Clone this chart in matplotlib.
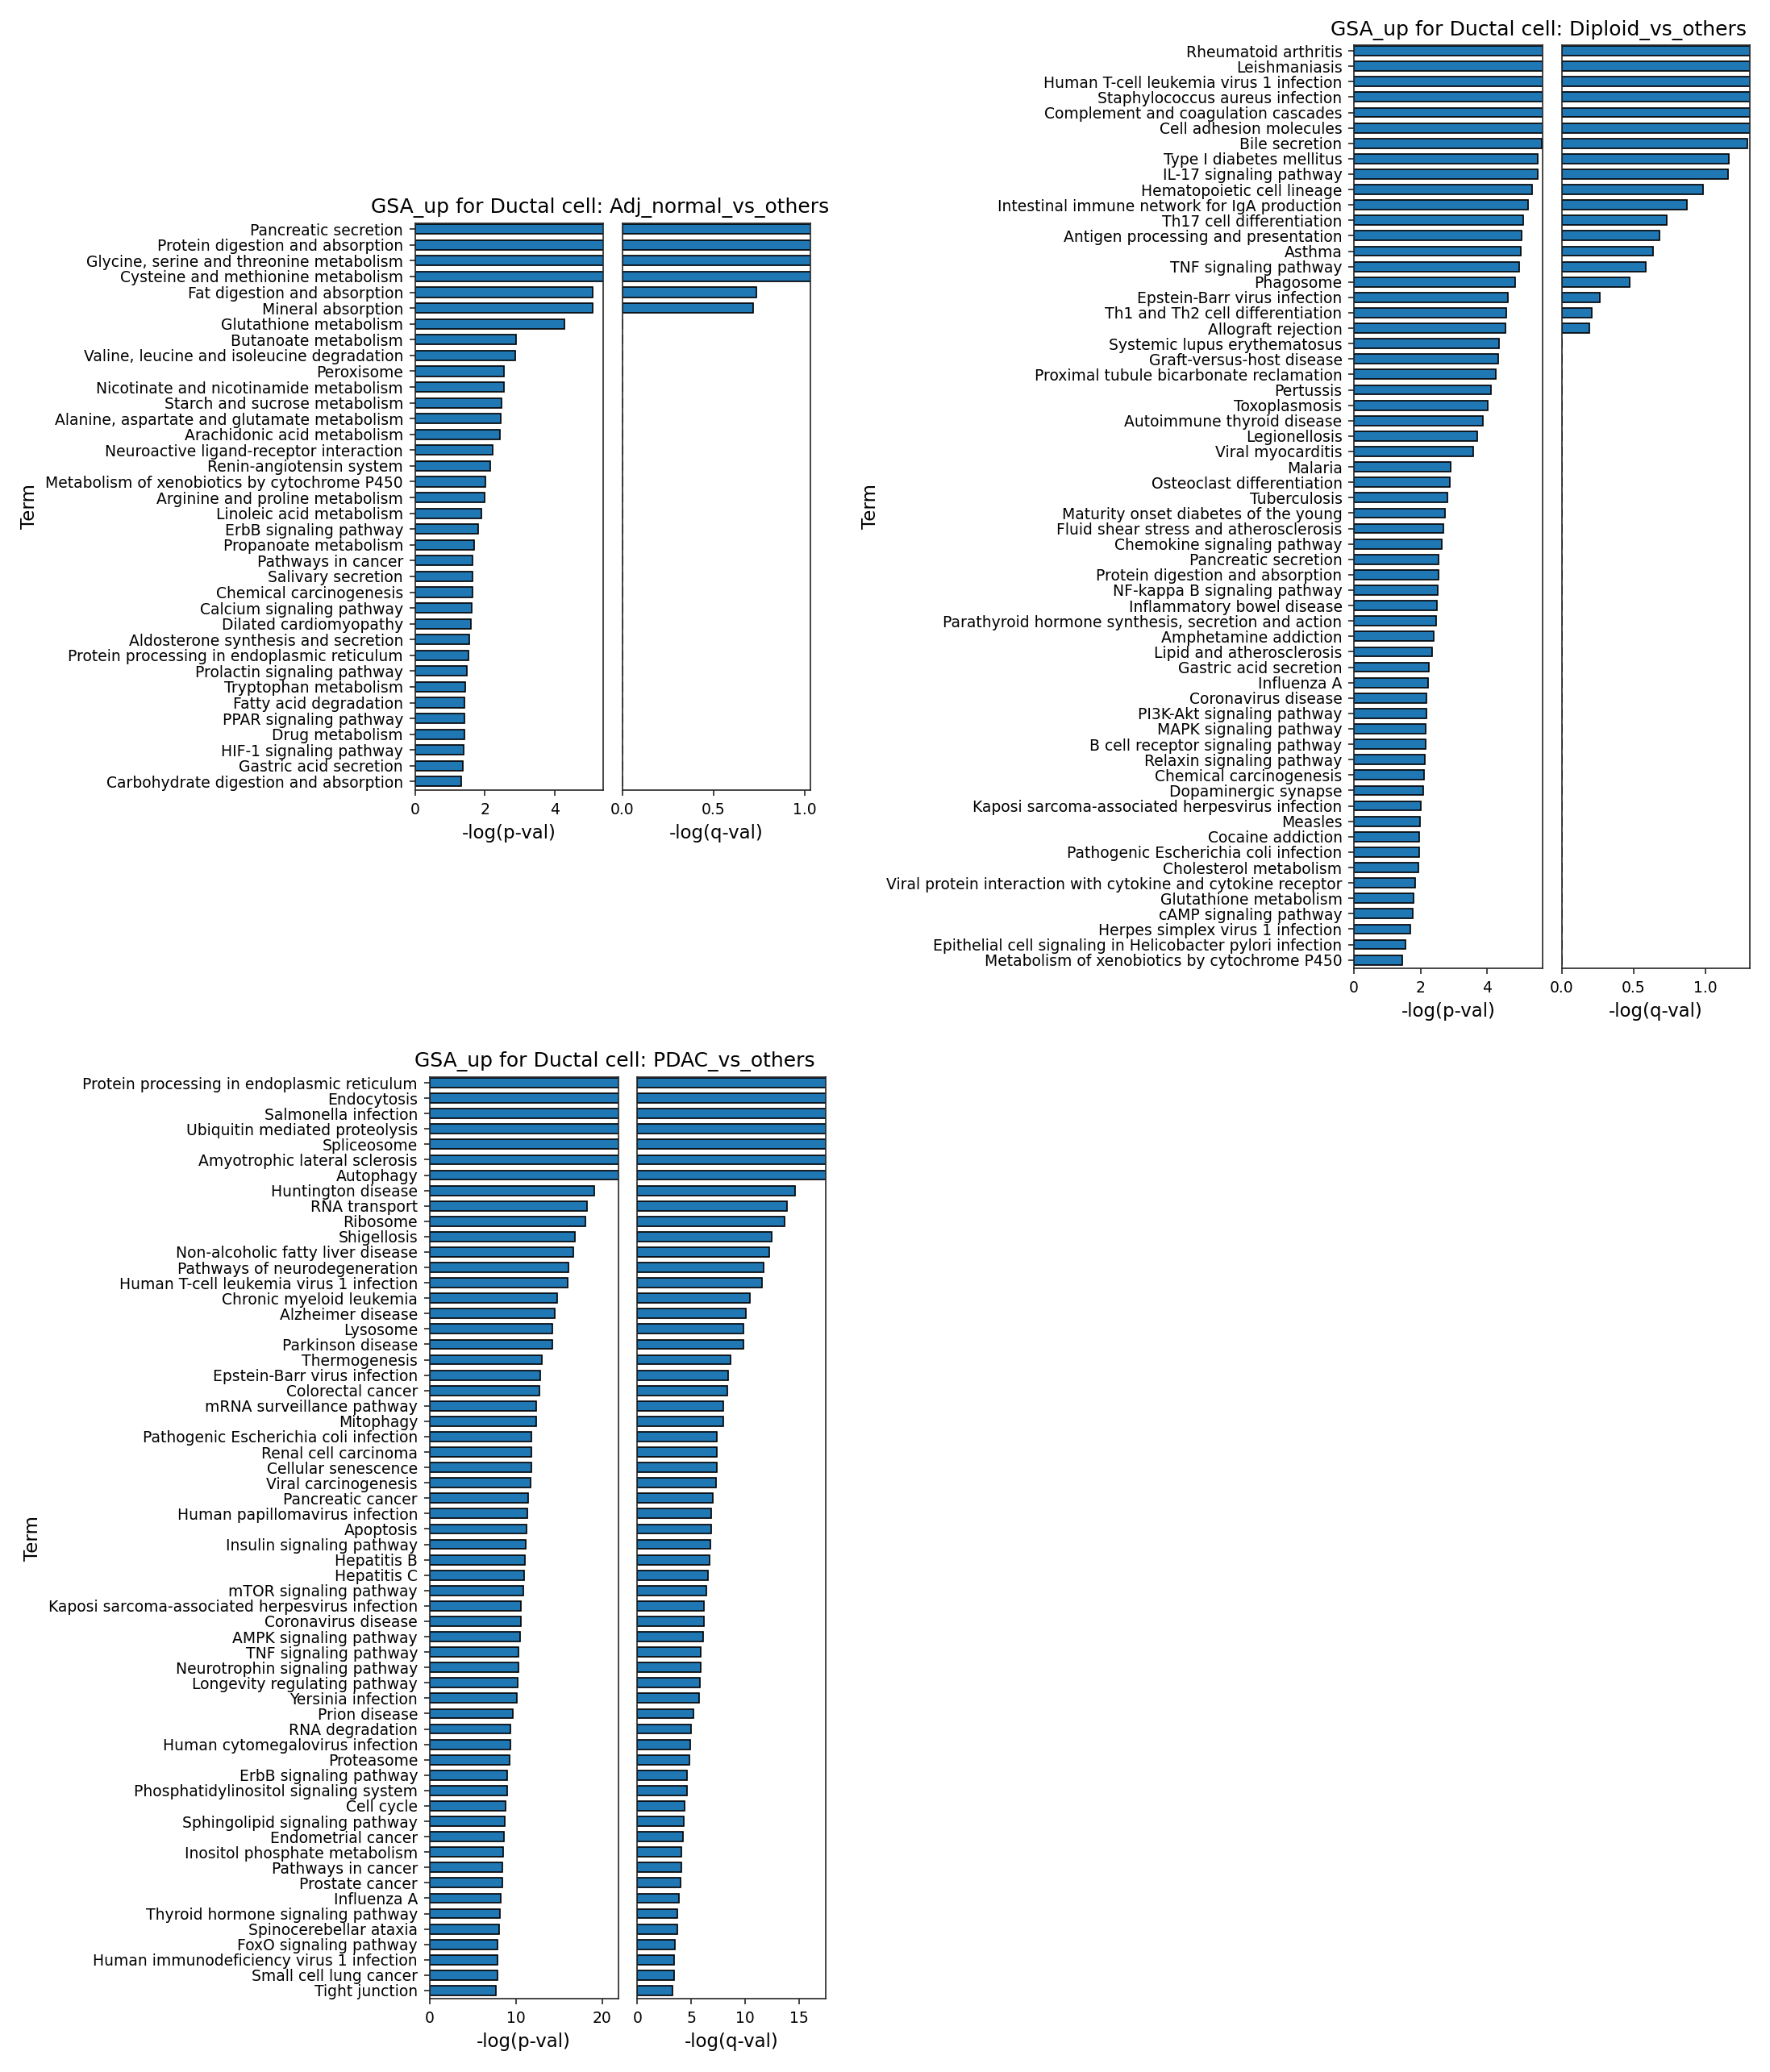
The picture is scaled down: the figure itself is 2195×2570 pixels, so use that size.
import matplotlib
matplotlib.use("Agg")
import matplotlib.pyplot as plt

# ---------------- data ----------------
adj_terms = [
    "Pancreatic secretion", "Protein digestion and absorption",
    "Glycine, serine and threonine metabolism", "Cysteine and methionine metabolism",
    "Fat digestion and absorption", "Mineral absorption", "Glutathione metabolism",
    "Butanoate metabolism", "Valine, leucine and isoleucine degradation", "Peroxisome",
    "Nicotinate and nicotinamide metabolism", "Starch and sucrose metabolism",
    "Alanine, aspartate and glutamate metabolism", "Arachidonic acid metabolism",
    "Neuroactive ligand-receptor interaction", "Renin-angiotensin system",
    "Metabolism of xenobiotics by cytochrome P450", "Arginine and proline metabolism",
    "Linoleic acid metabolism", "ErbB signaling pathway", "Propanoate metabolism",
    "Pathways in cancer", "Salivary secretion", "Chemical carcinogenesis",
    "Calcium signaling pathway", "Dilated cardiomyopathy",
    "Aldosterone synthesis and secretion", "Protein processing in endoplasmic reticulum",
    "Prolactin signaling pathway", "Tryptophan metabolism", "Fatty acid degradation",
    "PPAR signaling pathway", "Drug metabolism", "HIF-1 signaling pathway",
    "Gastric acid secretion", "Carbohydrate digestion and absorption",
]
adj_p = [6.2, 6.0, 5.9, 5.8, 5.10, 5.10, 4.29, 2.90, 2.88, 2.56, 2.54, 2.49, 2.45,
         2.43, 2.22, 2.16, 2.01, 1.99, 1.90, 1.82, 1.70, 1.66, 1.66, 1.66, 1.63, 1.61,
         1.56, 1.54, 1.49, 1.45, 1.43, 1.43, 1.43, 1.40, 1.38, 1.33]
adj_q = [1.25, 1.2, 1.15, 1.1, 0.736, 0.719] + [0.0] * 30

dip_terms = [
    "Rheumatoid arthritis", "Leishmaniasis", "Human T-cell leukemia virus 1 infection",
    "Staphylococcus aureus infection", "Complement and coagulation cascades",
    "Cell adhesion molecules", "Bile secretion", "Type I diabetes mellitus",
    "IL-17 signaling pathway", "Hematopoietic cell lineage",
    "Intestinal immune network for IgA production", "Th17 cell differentiation",
    "Antigen processing and presentation", "Asthma", "TNF signaling pathway",
    "Phagosome", "Epstein-Barr virus infection", "Th1 and Th2 cell differentiation",
    "Allograft rejection", "Systemic lupus erythematosus", "Graft-versus-host disease",
    "Proximal tubule bicarbonate reclamation", "Pertussis", "Toxoplasmosis",
    "Autoimmune thyroid disease", "Legionellosis", "Viral myocarditis", "Malaria",
    "Osteoclast differentiation", "Tuberculosis", "Maturity onset diabetes of the young",
    "Fluid shear stress and atherosclerosis", "Chemokine signaling pathway",
    "Pancreatic secretion", "Protein digestion and absorption",
    "NF-kappa B signaling pathway", "Inflammatory bowel disease",
    "Parathyroid hormone synthesis, secretion and action", "Amphetamine addiction",
    "Lipid and atherosclerosis", "Gastric acid secretion", "Influenza A",
    "Coronavirus disease", "PI3K-Akt signaling pathway", "MAPK signaling pathway",
    "B cell receptor signaling pathway", "Relaxin signaling pathway",
    "Chemical carcinogenesis", "Dopaminergic synapse",
    "Kaposi sarcoma-associated herpesvirus infection", "Measles", "Cocaine addiction",
    "Pathogenic Escherichia coli infection", "Cholesterol metabolism",
    "Viral protein interaction with cytokine and cytokine receptor",
    "Glutathione metabolism", "cAMP signaling pathway", "Herpes simplex virus 1 infection",
    "Epithelial cell signaling in Helicobacter pylori infection",
    "Metabolism of xenobiotics by cytochrome P450",
]
dip_p = [6.9, 6.6, 6.4, 6.2, 6.0, 5.8, 5.65, 5.54, 5.54, 5.37,
         5.25, 5.10, 5.04, 5.02, 4.96, 4.86, 4.64, 4.59, 4.56, 4.36,
         4.34, 4.26, 4.11, 4.03, 3.87, 3.72, 3.59, 2.91, 2.89, 2.80,
         2.75, 2.70, 2.65, 2.55, 2.55, 2.53, 2.49, 2.48, 2.41, 2.36,
         2.26, 2.24, 2.19, 2.19, 2.16, 2.16, 2.14, 2.12, 2.09, 2.02,
         1.99, 1.97, 1.97, 1.95, 1.85, 1.80, 1.77, 1.70, 1.55, 1.46]
dip_q = [1.9, 1.8, 1.7, 1.6, 1.5, 1.4, 1.295, 1.161, 1.155, 0.986, 0.873, 0.731,
         0.679, 0.635, 0.585, 0.472, 0.265, 0.207, 0.192] + [0.0] * 41

pdac_terms = [
    "Protein processing in endoplasmic reticulum", "Endocytosis", "Salmonella infection",
    "Ubiquitin mediated proteolysis", "Spliceosome", "Amyotrophic lateral sclerosis",
    "Autophagy", "Huntington disease", "RNA transport", "Ribosome", "Shigellosis",
    "Non-alcoholic fatty liver disease", "Pathways of neurodegeneration",
    "Human T-cell leukemia virus 1 infection", "Chronic myeloid leukemia",
    "Alzheimer disease", "Lysosome", "Parkinson disease", "Thermogenesis",
    "Epstein-Barr virus infection", "Colorectal cancer", "mRNA surveillance pathway",
    "Mitophagy", "Pathogenic Escherichia coli infection", "Renal cell carcinoma",
    "Cellular senescence", "Viral carcinogenesis", "Pancreatic cancer",
    "Human papillomavirus infection", "Apoptosis", "Insulin signaling pathway",
    "Hepatitis B", "Hepatitis C", "mTOR signaling pathway",
    "Kaposi sarcoma-associated herpesvirus infection", "Coronavirus disease",
    "AMPK signaling pathway", "TNF signaling pathway", "Neurotrophin signaling pathway",
    "Longevity regulating pathway", "Yersinia infection", "Prion disease",
    "RNA degradation", "Human cytomegalovirus infection", "Proteasome",
    "ErbB signaling pathway", "Phosphatidylinositol signaling system", "Cell cycle",
    "Sphingolipid signaling pathway", "Endometrial cancer",
    "Inositol phosphate metabolism", "Pathways in cancer", "Prostate cancer",
    "Influenza A", "Thyroid hormone signaling pathway", "Spinocerebellar ataxia",
    "FoxO signaling pathway", "Human immunodeficiency virus 1 infection",
    "Small cell lung cancer", "Tight junction",
]
pdac_p = [30.0, 28.0, 27.0, 26.0, 25.0, 24.0, 23.0,
          19.13, 18.26, 18.10, 16.88, 16.71, 16.14, 16.04, 14.81, 14.56, 14.27,
          14.27, 13.01, 12.85, 12.75, 12.40, 12.40, 11.85, 11.85, 11.85, 11.76,
          11.47, 11.37, 11.27, 11.14, 11.05, 10.98, 10.89, 10.60, 10.60, 10.50,
          10.31, 10.31, 10.21, 10.11, 9.66, 9.37, 9.37, 9.28, 8.99, 8.99, 8.82,
          8.73, 8.63, 8.53, 8.44, 8.44, 8.24, 8.15, 8.05, 7.89, 7.89, 7.89, 7.70]
pdac_q = [24.0, 23.0, 22.0, 21.0, 20.0, 19.0, 18.0,
          14.67, 13.92, 13.69, 12.50, 12.27, 11.73, 11.58, 10.47, 10.11, 9.85,
          9.85, 8.69, 8.43, 8.35, 8.02, 8.02, 7.40, 7.40, 7.40, 7.32, 7.01,
          6.86, 6.86, 6.78, 6.70, 6.60, 6.44, 6.21, 6.21, 6.11, 5.88, 5.88,
          5.80, 5.75, 5.21, 5.00, 4.92, 4.82, 4.59, 4.59, 4.38, 4.31, 4.23,
          4.07, 4.07, 4.00, 3.84, 3.69, 3.69, 3.48, 3.40, 3.40, 3.25]

titles = ["GSA_up for Ductal cell: Adj_normal_vs_others",
          "GSA_up for Ductal cell: Diploid_vs_others",
          "GSA_up for Ductal cell: PDAC_vs_others"]

# ---------------- layout ----------------
W, H, DPI = 2195, 2570, 150
fig = plt.figure(figsize=(W / DPI, H / DPI), dpi=DPI, facecolor="white")

SPINE = "#262626"
BAR = "#1f77b4"


def rect(x0, x1, y0, y1):
    return [x0 / W, 1 - y1 / H, (x1 - x0) / W, (y1 - y0) / H]


panels = [
    dict(terms=adj_terms, p=adj_p, q=adj_q, title=titles[0],
         px=(514.6, 747.9), qx=(771.8, 1004.6), y=(277.0, 980.0),
         pxlim=5.39, qxlim=1.03, pticks=[0, 2, 4], qticks=[0.0, 0.5, 1.0],
         tcx=743.7),
    dict(terms=dip_terms, p=dip_p, q=dip_q, title=titles[1],
         px=(1679.1, 1912.8), qx=(1937.0, 2170.1), y=(56.0, 1201.0),
         pxlim=5.67, qxlim=1.31, pticks=[0, 2, 4], qticks=[0.0, 0.5, 1.0],
         tcx=1907.5),
    dict(terms=pdac_terms, p=pdac_p, q=pdac_q, title=titles[2],
         px=(532.7, 766.9), qx=(790.3, 1023.8), y=(1336.0, 2479.3),
         pxlim=21.9, qxlim=17.48, pticks=[0, 10, 20], qticks=[0, 5, 10, 15],
         tcx=762.7),
]

for pn in panels:
    n = len(pn["terms"])
    pos = list(range(n))
    axp = fig.add_axes(rect(pn["px"][0], pn["px"][1], pn["y"][0], pn["y"][1]))
    axq = fig.add_axes(rect(pn["qx"][0], pn["qx"][1], pn["y"][0], pn["y"][1]))
    for ax, vals, lim, ticks, lab in ((axp, pn["p"], pn["pxlim"], pn["pticks"], "-log(p-val)"),
                                     (axq, pn["q"], pn["qxlim"], pn["qticks"], "-log(q-val)")):
        ax.barh(pos, vals, height=0.62, color=BAR, edgecolor="black", linewidth=0.8)
        ax.set_xlim(0, lim)
        ax.set_ylim(n - 1 + 0.54, -0.37)
        ax.set_xticks(ticks)
        ax.set_xlabel(lab, fontsize=11)
        ax.tick_params(axis="x", labelsize=9, length=3.5, width=0.8, color=SPINE)
        for s in ax.spines.values():
            s.set_color(SPINE)
            s.set_linewidth(0.8)
    axp.set_yticks(pos)
    axp.set_yticklabels(pn["terms"], fontsize=9)
    axp.tick_params(axis="y", length=3.5, width=0.8, color=SPINE)
    axp.set_ylabel("Term", fontsize=11)
    axq.set_yticks([])
    fig.text(pn["tcx"] / W, 1 - (pn["y"][0] - 12.5) / H, pn["title"],
             ha="center", va="baseline", fontsize=12)

fig.savefig("out.png", dpi=DPI, facecolor="white")
